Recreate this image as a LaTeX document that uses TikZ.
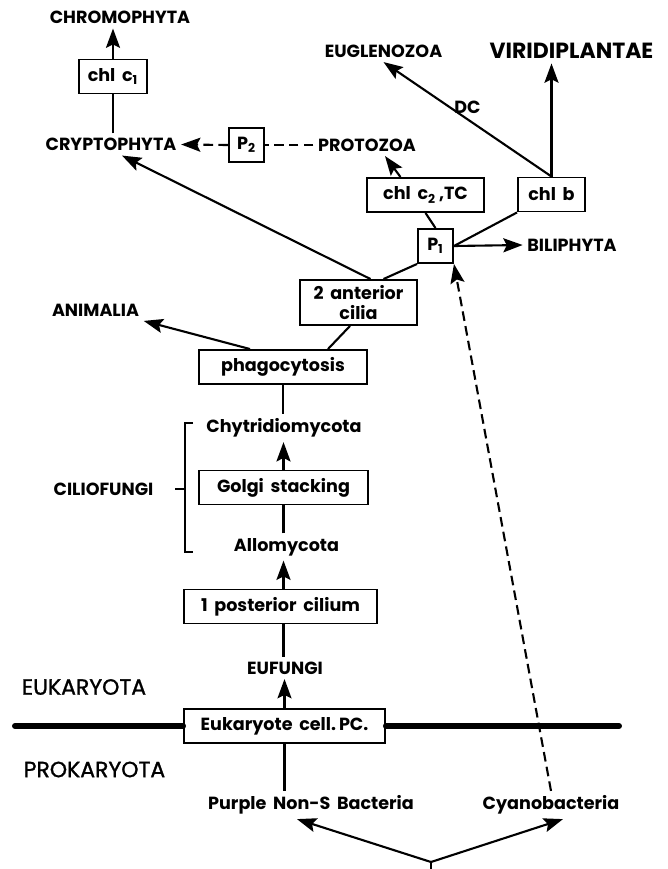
\documentclass[tikz,border=0pt]{standalone}
\usepackage{fontspec}
\setmainfont{Poppins}
\newfontfamily\boxfont{Poppins}[WordSpace=1.8]
\newfontfamily\realmfont{Poppins}[FakeBold=1.2]
\usetikzlibrary{arrows.meta,positioning,calc}

\begin{document}
\begin{tikzpicture}[x=0.02cm, y=-0.02cm,
    box/.style={draw, line width=1.1pt, inner sep=0pt, minimum height=0.68cm,
        font=\fontsize{10}{11}\boxfont\bfseries, minimum width=#1},
    box/.default=1.36cm,
    taxon/.style={font=\fontsize{10}{12}\selectfont\bfseries, inner sep=2.5pt},
    clade/.style={font=\fontsize{10}{12}\boxfont\bfseries, inner sep=2.5pt},
    realm/.style={font=\fontsize{12.5}{14}\realmfont, inner sep=2.5pt},
    arr/.style={-{Stealth[length=11pt, width=8pt, inset=2pt]}, line width=1.2pt},
    link/.style={line width=1.2pt},
    dashlink/.style={line width=1.2pt, dash pattern=on 5.5pt off 3pt}
]
\useasboundingbox (0,0) rectangle (668,869);

% upper part
\node[taxon] (chromo) at (120,17.5) {CHROMOPHYTA};
\node[box] (chlcone) at (113,76.5) {chl c\textsubscript{1}};
\node[taxon] (crypto) at (111,144.5) {CRYPTOPHYTA};
\node[box=0.7cm] (ptwo) at (246.5,145) {P\textsubscript{2}};
\node[taxon] (proto) at (367,145) {PROTOZOA};
\node[taxon] (eugleno) at (383.5,51) {EUGLENOZOA};
\node[taxon, font=\fontsize{12.5}{14}\selectfont\bfseries] (viridi) at (571.5,51) {VIRIDIPLANTAE};
\node[box=2.34cm] (chlctwo) at (425.5,195) {chl c\textsubscript{2}\,,TC};
\node[box=1.34cm] (chlb) at (551.5,194.5) {chl b};
\node[box=0.7cm] (pone) at (435.5,246) {P\textsubscript{1}};
\node[taxon] (bili) at (572,245) {BILIPHYTA};
\node[box=2.34cm, minimum height=0.9cm, align=center] (antcilia) at (358.5,302.5) {2 anterior\\cilia};
\node[taxon] (animal) at (95.5,310) {ANIMALIA};

% main stem
\node[box=3.36cm] (phago) at (283,367) {phagocytosis};
\node[clade] (chytrid) at (284,428) {Chytridiomycota};
\node[box=3.38cm] (golgi) at (283.5,487.5) {Golgi stacking};
\node[clade] (allo) at (286.5,547) {Allomycota};
\node[clade] (cilio) at (103.5,489) {CILIOFUNGI};
\node[box=3.86cm] (postcil) at (280.5,606.5) {1 posterior cilium};
\node[clade] (eufungi) at (285,668) {EUFUNGI};
\node[box=4.02cm] (eukcell) at (284.5,726) {Eukaryote cell.\,PC.};
\node[realm] (euka) at (84,687) {EUKARYOTA};
\node[realm] (proka) at (94.5,769.5) {PROKARYOTA};
\node[clade] (purple) at (311,805) {Purple Non-S Bacteria};
\node[clade] (cyano) at (551,805) {Cyanobacteria};

\coordinate (lineL) at (15,726);
\coordinate (lineR) at (619,726);
\coordinate (fork) at (431,862);
\coordinate (forkend) at (431,869);
\coordinate (brtop) at (193,423);
\coordinate (brbot) at (193,552);
\coordinate (brmid) at (185,489);
\coordinate (brtick) at (175,489);

\draw[arr] (chlcone.north) -- (chlcone.north |- chromo.south);
\draw[link] (crypto.north -| chlcone) -- (chlcone.south);
\draw[arr, dashlink] (ptwo.west) -- (crypto.east);
\draw[dashlink] (proto.west) -- (ptwo.east);
\draw[arr] ([xshift=0.24cm]antcilia.north) -- ([xshift=0.22cm]crypto.south);
\draw[link] (pone.south west) -- ([xshift=0.5cm]antcilia.north);
\draw[link] (pone.north) -- (chlctwo.south);
\draw[arr] ([xshift=-0.5cm]chlctwo.north) -- ([xshift=0.36cm]proto.south);
\draw[link] (pone.east) -- (chlb.south west);
\draw[arr] (pone.east) -- (bili.west);
\draw[arr] (chlb.north) -- (chlb.north |- viridi.south);
\draw[arr] (chlb.north) -- node[taxon, above, pos=0.5] {DC} (eugleno.south);
\draw[arr] ([xshift=-0.66cm]phago.north) -- (animal.south east);
\draw[link] ([xshift=-0.17cm]antcilia.south) -- ([xshift=0.9cm]phago.north);

\draw[link] (phago.south) -- (phago.south |- chytrid.north);
\draw[arr] (golgi.north) -- (golgi.north |- chytrid.south);
\draw[link] (allo.north -| golgi) -- (golgi.south);
\draw[arr] (postcil.north -| golgi) -- (allo.south -| golgi);
\draw[link] (eufungi.north -| golgi) -- (postcil.south -| golgi);
\draw[arr] (eukcell.north) -- (eukcell.north |- eufungi.south);
\draw[link] (purple.north -| eukcell) -- (eukcell.south);
\draw[line width=3.4pt, line cap=round] (lineL) -- (eukcell.west);
\draw[line width=3.4pt, line cap=round] (eukcell.east) -- (lineR);

\draw[arr, dashlink] (cyano.north) -- (pone.south east);
\draw[arr] (fork) -- ([xshift=-0.28cm]purple.south);
\draw[arr] (fork) -- ([xshift=0.24cm]cyano.south);
\draw[link] (fork) -- (forkend);

% bracket
\draw[link] (brtop) -- (brtop -| brmid) -- (brbot -| brmid) -- (brbot);
\draw[link] (brtick) -- (brmid);
\end{tikzpicture}
\end{document}
